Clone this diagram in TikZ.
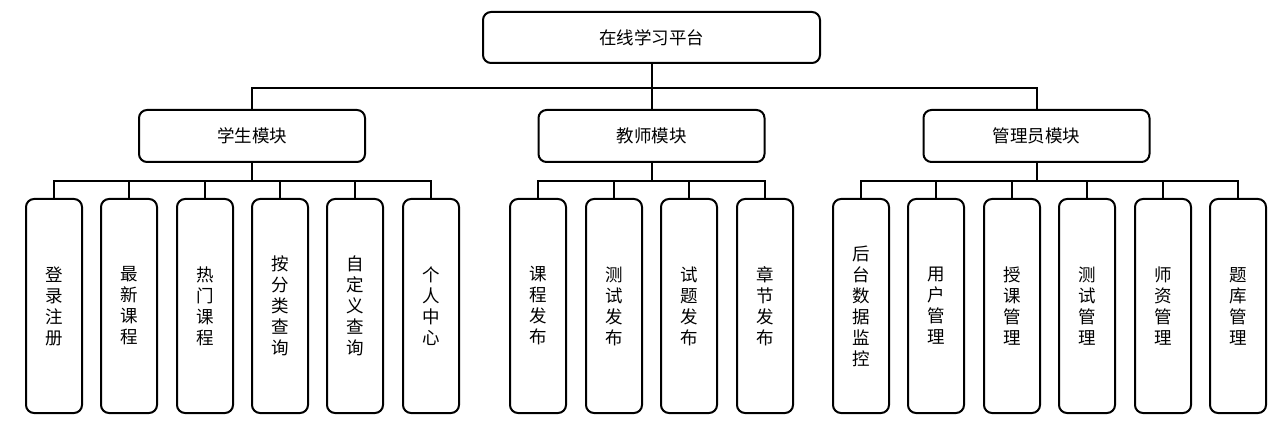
\documentclass[tikz,border=0pt]{standalone}
\usepackage{fontspec}
\newfontfamily\cjk{Noto Sans CJK SC}[FakeStretch=1]
\begin{document}
\begin{tikzpicture}[x=1pt,y=-1pt,
  box/.style={draw=black,line width=2pt,rounded corners=8pt,fill=white,inner sep=0pt,font=\cjk\fontsize{17.5}{21}\selectfont,align=center},
  top/.style={box,minimum width=337pt,minimum height=51pt},
  mid/.style={box,minimum width=226pt,minimum height=52pt},
  leaf/.style={box,minimum width=56pt,minimum height=214pt},
  conn/.style={line width=2pt}]
\useasboundingbox (0,0) rectangle (1280,422);
\node[top] (root) at (651.5,37.5) {在线学习平台};
\node[mid] (stu) at (252,136) {学生模块};
\node[mid] (tea) at (651.5,136) {教师模块};
\node[mid] (adm) at (1036.5,136) {管理员模块};
\coordinate (rb) at (651.5,88);
\draw[conn] (root.south) -- (rb);
\draw[conn] (rb) -| (stu.north);
\draw[conn] (rb) -| (adm.north);
\draw[conn] (rb) -- (tea.north);
% student leaves
\node[leaf] (s1) at (54,306) {登\\录\\注\\册};
\node[leaf] (s2) at (129,306) {最\\新\\课\\程};
\node[leaf] (s3) at (205,306) {热\\门\\课\\程};
\node[leaf] (s4) at (280,306) {按\\分\\类\\查\\询};
\node[leaf] (s5) at (355,306) {自\\定\\义\\查\\询};
\node[leaf] (s6) at (431,306) {个\\人\\中\\心};
% teacher leaves
\node[leaf] (t1) at (538,306) {课\\程\\发\\布};
\node[leaf] (t2) at (614,306) {测\\试\\发\\布};
\node[leaf] (t3) at (689,306) {试\\题\\发\\布};
\node[leaf] (t4) at (765,306) {章\\节\\发\\布};
% admin leaves
\node[leaf] (a1) at (861,306) {后\\台\\数\\据\\监\\控};
\node[leaf] (a2) at (936,306) {用\\户\\管\\理};
\node[leaf] (a3) at (1012,306) {授\\课\\管\\理};
\node[leaf] (a4) at (1087,306) {测\\试\\管\\理};
\node[leaf] (a5) at (1163,306) {师\\资\\管\\理};
\node[leaf] (a6) at (1238,306) {题\\库\\管\\理};
% connectors
\coordinate (sb) at (252,181);
\coordinate (tb) at (651.5,181);
\coordinate (ab) at (1036.5,181);
\draw[conn] (stu.south) -- (sb);
\draw[conn] (tea.south) -- (tb);
\draw[conn] (adm.south) -- (ab);
\foreach \n in {s1,s2,s3,s4,s5,s6} \draw[conn] (sb) -| (\n.north);
\foreach \n in {t1,t2,t3,t4} \draw[conn] (tb) -| (\n.north);
\foreach \n in {a1,a2,a3,a4,a5,a6} \draw[conn] (ab) -| (\n.north);
\end{tikzpicture}
\end{document}
